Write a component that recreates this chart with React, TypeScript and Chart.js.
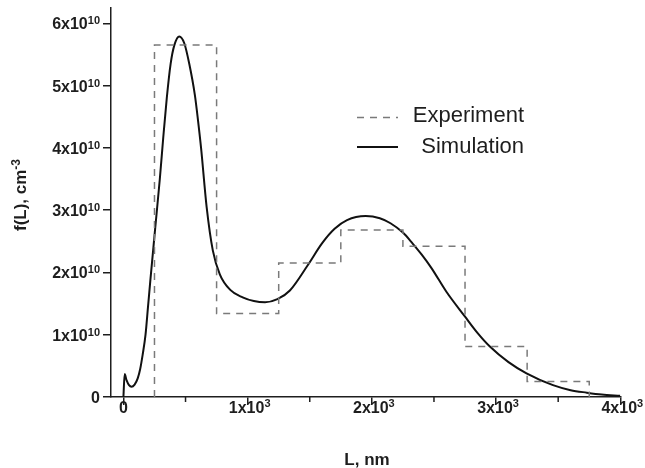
import React, { useEffect, useRef } from 'react';
import { Chart, registerables } from 'chart.js';

Chart.register(...registerables);

// Simulation curve: L (nm) and f(L) in units of 1e10 cm^-3
const simL = [0, 10, 25, 45, 65, 90, 115, 135, 155, 178, 198, 218, 253, 293, 320, 349, 380, 410, 450, 490, 530, 575, 600, 625, 670, 720, 776, 860, 960, 1050, 1140, 1240, 1340, 1485, 1600, 1700, 1800, 1950, 2064, 2150, 2250, 2330, 2400, 2480, 2600, 2750, 2850, 2950, 3100, 3245, 3458, 3600, 3730, 3850, 4000];
const simF = [0, 0.37, 0.27, 0.19, 0.165, 0.2, 0.3, 0.45, 0.68, 1.0, 1.45, 1.9, 2.65, 3.5, 4.15, 4.8, 5.35, 5.65, 5.79, 5.68, 5.35, 4.85, 4.45, 4.0, 3.05, 2.35, 1.97, 1.72, 1.6, 1.54, 1.52, 1.57, 1.71, 2.12, 2.47, 2.7, 2.84, 2.905, 2.87, 2.79, 2.64, 2.46, 2.29, 2.07, 1.69, 1.29, 1.03, 0.81, 0.56, 0.38, 0.19, 0.11, 0.07, 0.04, 0.02];

// Experiment histogram: bin edges (nm) and heights (1e10 cm^-3)
const binEdges = [250, 750, 1250, 1750, 2250, 2750, 3250, 3750];
const binValues = [5.65, 1.34, 2.15, 2.68, 2.42, 0.81, 0.25];

// Axis ticks and labels ([base, superscript])
const xTickValues = [0, 1000, 2000, 3000, 4000];
const xMinorTickValues = [500, 1500, 2500, 3500];
const xTickLabels: [string, string][] = [['0', ''], ['1x10', '3'], ['2x10', '3'], ['3x10', '3'], ['4x10', '3']];
const yTickValues = [0, 1, 2, 3, 4, 5, 6];
const yTickLabels: [string, string][] = [['0', ''], ['1x10', '10'], ['2x10', '10'], ['3x10', '10'], ['4x10', '10'], ['5x10', '10'], ['6x10', '10']];

const seriesLabels = ['Experiment', 'Simulation'];
const xTitle = 'L, nm';
const yTitle: [string, string] = ['f(L), cm', '-3'];

const FONT = '"Liberation Sans", Arial, sans-serif';
const AXIS = '#1e1e1e';

export default function App() {
  const ref = useRef<HTMLCanvasElement | null>(null);

  useEffect(() => {
    if (!ref.current) return;

    const histPoints = [
      { x: binEdges[0], y: 0 },
      ...binValues.map((v, i) => ({ x: binEdges[i], y: v })),
      { x: binEdges[binEdges.length - 1], y: 0 },
    ];
    const simPoints = simL.map((l, i) => ({ x: l, y: simF[i] }));

    const drawLabel = (ctx: CanvasRenderingContext2D, base: string, sup: string, x: number, baseline: number, align: 'center' | 'right', baseSize: number, supSize: number, supRaise: number) => {
      ctx.font = `bold ${baseSize}px ${FONT}`;
      const wb = ctx.measureText(base).width;
      ctx.font = `bold ${supSize}px ${FONT}`;
      const ws = sup ? ctx.measureText(sup).width : 0;
      const total = wb + ws;
      const start = align === 'center' ? x - total / 2 : x - total;
      ctx.textAlign = 'left';
      ctx.textBaseline = 'alphabetic';
      ctx.font = `bold ${baseSize}px ${FONT}`;
      ctx.fillText(base, start, baseline);
      if (sup) {
        ctx.font = `bold ${supSize}px ${FONT}`;
        ctx.fillText(sup, start + wb, baseline - supRaise);
      }
    };

    const overlay = {
      id: 'overlay',
      afterDraw(chart: any) {
        const ctx: CanvasRenderingContext2D = chart.ctx;
        const xs = chart.scales.x;
        const ys = chart.scales.y;
        const area = chart.chartArea;
        ctx.save();
        ctx.fillStyle = '#1e1e1e';

        // minor x ticks
        ctx.strokeStyle = AXIS;
        ctx.lineWidth = 1.5;
        xMinorTickValues.forEach((v) => {
          const px = xs.getPixelForValue(v);
          ctx.beginPath();
          ctx.moveTo(px, area.bottom);
          ctx.lineTo(px, area.bottom + 5);
          ctx.stroke();
        });

        // x tick labels
        xTickValues.forEach((v, i) => {
          const px = xs.getPixelForValue(v);
          const [b, s] = xTickLabels[i];
          drawLabel(ctx, b, s, px + (s ? 2 : 0), area.bottom + 16, 'center', 16, 11, 6);
        });

        // y tick labels
        yTickValues.forEach((v, i) => {
          const py = ys.getPixelForValue(v);
          const [b, s] = yTickLabels[i];
          drawLabel(ctx, b, s, 100, py + 6, 'right', 16, 11, 5);
        });

        // x title
        ctx.font = `bold 17px ${FONT}`;
        ctx.textAlign = 'center';
        ctx.textBaseline = 'alphabetic';
        ctx.fillText(xTitle, 367, 465);

        // y title (rotated)
        ctx.save();
        ctx.translate(26, 195);
        ctx.rotate(-Math.PI / 2);
        drawLabel(ctx, yTitle[0], yTitle[1], 0, 0, 'center', 17, 12, 6);
        ctx.restore();

        // legend
        const lx0 = 357;
        const lx1 = 398;
        const ly = [117.5, 147];
        ctx.lineWidth = 1.5;
        ctx.strokeStyle = '#7a7a7a';
        ctx.setLineDash([7, 6]);
        ctx.beginPath();
        ctx.moveTo(lx0, ly[0]);
        ctx.lineTo(lx1, ly[0]);
        ctx.stroke();
        ctx.setLineDash([]);
        ctx.strokeStyle = '#111';
        ctx.lineWidth = 2;
        ctx.beginPath();
        ctx.moveTo(lx0, ly[1]);
        ctx.lineTo(lx1, ly[1]);
        ctx.stroke();
        ctx.fillStyle = '#1e1e1e';
        ctx.font = `22px ${FONT}`;
        ctx.textAlign = 'right';
        ctx.textBaseline = 'alphabetic';
        ctx.fillText(seriesLabels[0], 524, 122);
        ctx.fillText(seriesLabels[1], 524, 153);

        ctx.restore();
      },
    };

    const chart = new Chart(ref.current, {
      type: 'line',
      data: {
        datasets: [
          {
            label: seriesLabels[0],
            data: histPoints,
            stepped: 'before',
            borderColor: '#7a7a7a',
            borderWidth: 1.5,
            borderDash: [7, 6],
            pointRadius: 0,
            fill: false,
          },
          {
            label: seriesLabels[1],
            data: simPoints,
            borderColor: '#111',
            borderWidth: 2,
            cubicInterpolationMode: 'monotone',
            pointRadius: 0,
            fill: false,
          },
        ],
      },
      options: {
        responsive: false,
        maintainAspectRatio: false,
        animation: false,
        layout: { padding: { left: 0, right: 24.7, top: 7.75, bottom: 0 } },
        plugins: { legend: { display: false }, tooltip: { enabled: false } },
        scales: {
          x: {
            type: 'linear',
            min: -100,
            max: 4000,
            afterBuildTicks: (s: any) => {
              s.ticks = xTickValues.map((v) => ({ value: v }));
            },
            afterFit: (s: any) => {
              s.height = 71;
            },
            ticks: { display: false },
            grid: { drawOnChartArea: false, drawTicks: true, tickLength: 8, color: AXIS, lineWidth: 1.5 },
            border: { display: true, color: AXIS, width: 1.5 },
          },
          y: {
            type: 'linear',
            min: 0,
            max: 6.25,
            afterBuildTicks: (s: any) => {
              s.ticks = yTickValues.map((v) => ({ value: v }));
            },
            afterFit: (s: any) => {
              s.width = 111;
            },
            ticks: { display: false },
            grid: { drawOnChartArea: false, drawTicks: true, tickLength: 8, color: AXIS, lineWidth: 1.5 },
            border: { display: true, color: AXIS, width: 1.5 },
          },
        },
      } as any,
      plugins: [overlay],
    });

    return () => chart.destroy();
  }, []);

  return (
    <div style={{ position: 'fixed', left: 0, top: 0, width: 645, height: 468, background: '#fff' }}>
      <canvas ref={ref} width={645} height={468} style={{ display: 'block', width: 645, height: 468 }} />
    </div>
  );
}
